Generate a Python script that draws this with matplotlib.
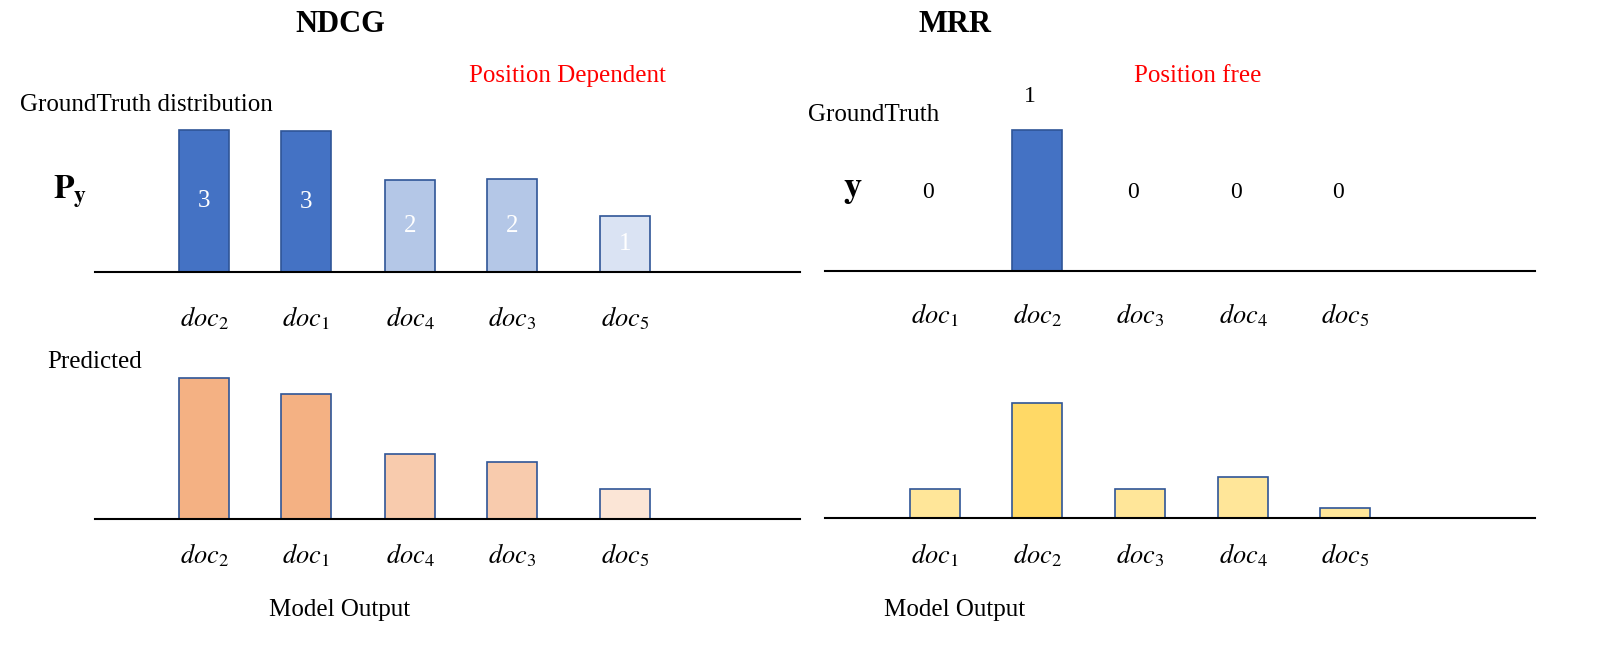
import matplotlib.pyplot as plt

plt.rcParams['font.family'] = ['Liberation Serif', 'DejaVu Serif']
plt.rcParams['mathtext.fontset'] = 'stix'

# NDCG panel
ndcg_docs = ['2', '1', '4', '3', '5']
ndcg_gt = [3, 3, 2, 2, 1]
ndcg_gt_h = [142, 141, 92, 93, 56]
ndcg_pred_h = [141, 125, 65, 57, 30]

# MRR panel
mrr_docs = ['1', '2', '3', '4', '5']
mrr_gt = [0, 1, 0, 0, 0]
mrr_gt_h = [0, 141, 0, 0, 0]
mrr_pred_h = [29, 115, 29, 41, 10]

blue = {3: '#4472C4', 2: '#B4C7E7', 1: '#DAE3F3'}
orange = ['#F4B183', '#F4B183', '#F8CBAD', '#F8CBAD', '#FBE5D6']
yellow = ['#FFE699', '#FFD966', '#FFE699', '#FFE699', '#FFE699']
edge = '#2F5597'

fig = plt.figure(figsize=(16.05, 6.51), dpi=100)
ax = fig.add_axes([0, 0, 1, 1])
ax.set_xlim(0, 1605)
ax.set_ylim(651, 0)
ax.axis('off')

lx = [204, 306, 410, 512, 625]
rx = [935, 1037, 1140, 1243, 1345]
w = 50


def doc_label(d):
    return r'$doc_{\mathit{' + d + '}}$'


# left top
ax.plot([95, 800], [272, 272], color='black', lw=1.5)
ax.bar(lx, [-h for h in ndcg_gt_h], bottom=272, width=w,
       color=[blue[v] for v in ndcg_gt], edgecolor=edge, lw=1.2)
for x, v, h in zip(lx, ndcg_gt, ndcg_gt_h):
    ax.text(x, 272 - h / 2, str(v), color='white', fontsize=18, ha='center', va='center')
for x, d in zip(lx, ndcg_docs):
    ax.text(x, 318, doc_label(d), fontsize=19, ha='center', va='center')

# left bottom
ax.plot([95, 800], [519, 519], color='black', lw=1.5)
ax.bar(lx, [-h for h in ndcg_pred_h], bottom=519, width=w,
       color=orange, edgecolor=edge, lw=1.2)
for x, d in zip(lx, ndcg_docs):
    ax.text(x, 555, doc_label(d), fontsize=19, ha='center', va='center')

# right top
ax.plot([825, 1535], [271, 271], color='black', lw=1.5)
ax.bar(rx, [-h for h in mrr_gt_h], bottom=271, width=w,
       color='#4472C4', edgecolor=edge, lw=1.2)
for x, v, h in zip(rx, mrr_gt, mrr_gt_h):
    if v:
        ax.text(x - 7, 97, str(v), fontsize=17, ha='center', va='center')
    else:
        ax.text(x - 7, 192, str(v), fontsize=17, ha='center', va='center')
for x, d in zip(rx, mrr_docs):
    ax.text(x, 315, doc_label(d), fontsize=19, ha='center', va='center')

# right bottom
ax.plot([825, 1535], [518, 518], color='black', lw=1.5)
ax.bar(rx, [-h for h in mrr_pred_h], bottom=518, width=w,
       color=yellow, edgecolor=edge, lw=1.2)
for x, d in zip(rx, mrr_docs):
    ax.text(x, 555, doc_label(d), fontsize=19, ha='center', va='center')

# texts
ax.text(340, 24, 'NDCG', fontsize=22, fontweight='bold', ha='center', va='center')
ax.text(955, 24, 'MRR', fontsize=22, fontweight='bold', ha='center', va='center')
ax.text(567, 76, 'Position Dependent', fontsize=18, color='red', ha='center', va='center')
ax.text(1198, 76, 'Position free', fontsize=18, color='red', ha='center', va='center')
ax.text(20, 105, 'GroundTruth distribution', fontsize=18, ha='left', va='center')
ax.text(808, 115, 'GroundTruth', fontsize=18, ha='left', va='center')
ax.text(47, 362, 'Predicted', fontsize=18, ha='left', va='center')
ax.text(340, 610, 'Model Output', fontsize=18, ha='center', va='center')
ax.text(955, 610, 'Model Output', fontsize=18, ha='center', va='center')
ax.text(53, 192, r'$\mathbf{P_y}$', fontsize=24, ha='left', va='center')
ax.text(843, 190, r'$\mathbf{y}$', fontsize=26, ha='left', va='center')

fig.savefig('out.png', dpi=100)
